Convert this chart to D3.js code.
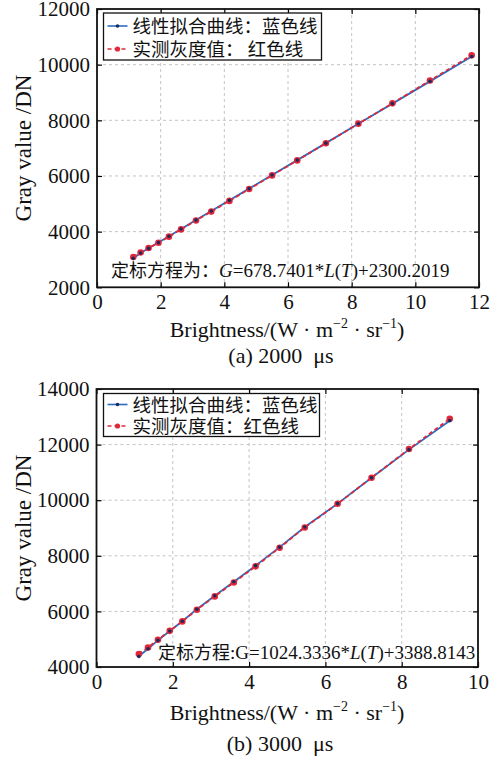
<!DOCTYPE html>
<html><head><meta charset="utf-8">
<script src="https://cdn.jsdelivr.net/npm/d3@7"></script>
<style>body{margin:0;background:#fff}svg{display:block}</style>
</head><body>
<svg id="c" width="504" height="763"></svg>
<script>
// ---- Data (panel a: 2000 µs) ----
const brightnessA = [1.14,1.37,1.62,1.93,2.26,2.64,3.11,3.59,4.16,4.78,5.50,6.29,7.19,8.21,9.28,10.46,11.77];
const fitA =        [3040,3230,3400,3610,3835,4095,4415,4740,5125,5545,6035,6570,7180,7875,8600,9400,10290];
const measuredA =   [3090,3250,3410,3600,3820,4080,4400,4720,5105,5530,6020,6560,7175,7880,8610,9430,10340];
const xTicksA = [0,2,4,6,8,10,12];
const yTicksA = [2000,4000,6000,8000,10000,12000];

// ---- Data (panel b: 3000 µs) ----
const brightnessB = [1.11,1.35,1.61,1.92,2.25,2.63,3.10,3.60,4.17,4.80,5.46,6.32,7.21,8.19,9.26];
const fitB =        [4380,4658,4958,5295,5646,6080,6561,7067,7646,8311,9034,9877,10807,11819,12861];
const measuredB =   [4470,4700,4980,5300,5640,6060,6540,7040,7620,8290,9020,9870,10810,11840,12930];
const xTicksB = [0,2,4,6,8,10];
const yTicksB = [4000,6000,8000,10000,12000,14000];

const legendFit = "线性拟合曲线：蓝色线";
const legendMeasA = "实测灰度值： 红色线";
const legendMeasB = "实测灰度值：红色线";

const svg = d3.select("#c");
const serif = "'Liberation Serif','DejaVu Serif',serif";
const cjk = "'Noto Sans CJK SC','Noto Sans CJK JP',sans-serif";
const BLUE = "#2a6cc0", NAVY = "#1b2a5c", RED = "#e0283a";

function panel(o){
  const g = svg.append("g");
  const x = d3.scaleLinear().domain(o.xdom).range([o.l, o.r]);
  const y = d3.scaleLinear().domain(o.ydom).range([o.b, o.t]);
  // grid
  g.append("g").selectAll("line").data(o.xt.slice(1,-1)).join("line")
    .attr("x1",d=>x(d)).attr("x2",d=>x(d)).attr("y1",o.t).attr("y2",o.b)
    .attr("stroke","#c4c4c4").attr("stroke-dasharray","3,3").attr("stroke-width",1);
  g.append("g").selectAll("line").data(o.yt.slice(1,-1)).join("line")
    .attr("y1",d=>y(d)).attr("y2",d=>y(d)).attr("x1",o.l).attr("x2",o.r)
    .attr("stroke","#c4c4c4").attr("stroke-dasharray","3,3").attr("stroke-width",1);
  // axes (inward ticks on all sides)
  const ax = (gen, tr) => g.append("g").attr("transform",tr).call(gen);
  const bottom = ax(d3.axisBottom(x).tickValues(o.xt).tickSize(-5).tickPadding(7).tickFormat(d3.format("d")), `translate(0,${o.b})`);
  const left = ax(d3.axisLeft(y).tickValues(o.yt).tickSize(-5).tickPadding(6).tickFormat(d3.format("d")), `translate(${o.l},0)`);
  const top = ax(d3.axisTop(x).tickValues(o.xt).tickSize(-5).tickFormat(""), `translate(0,${o.t})`);
  const right = ax(d3.axisRight(y).tickValues(o.yt).tickSize(-5).tickFormat(""), `translate(${o.r},0)`);
  [bottom,left,top,right].forEach(a=>{
    a.select(".domain").remove();
    a.selectAll("line").attr("stroke","#000").attr("stroke-width",1.2);
    a.selectAll("text").attr("font-family",serif).attr("font-size",21).attr("fill","#111");
  });
  left.selectAll("text").attr("dx","-1");
  g.append("rect").attr("x",o.l).attr("y",o.t).attr("width",o.r-o.l).attr("height",o.b-o.t)
    .attr("fill","none").attr("stroke","#111").attr("stroke-width",1.8);

  // lines
  const fitPts = o.bx.map((v,i)=>[v,o.fit[i]]);
  const measPts = o.bx.map((v,i)=>[v,o.meas[i]]);
  const line = d3.line().x(d=>x(d[0])).y(d=>y(d[1]));
  g.append("path").attr("d",line(fitPts)).attr("fill","none").attr("stroke",BLUE).attr("stroke-width",1.8);
  g.append("path").attr("d",line(measPts)).attr("fill","none").attr("stroke",RED).attr("stroke-width",1.8).attr("stroke-dasharray","4,3");
  g.append("g").selectAll("circle").data(measPts).join("circle")
    .attr("cx",d=>x(d[0])).attr("cy",d=>y(d[1])).attr("r",3.3).attr("fill",RED);
  g.append("g").selectAll("circle").data(fitPts).join("circle")
    .attr("cx",d=>x(d[0])).attr("cy",d=>y(d[1])).attr("r",1.8).attr("fill",NAVY);

  // legend
  const L = o.leg;
  g.append("rect").attr("x",L.x).attr("y",L.y).attr("width",L.w).attr("height",L.h)
    .attr("fill","#fff").attr("stroke","#111").attr("stroke-width",1.3);
  const rows = [{t:legendFit,c:BLUE,dash:null,mc:NAVY,mr:1.8},{t:o.legMeas,c:RED,dash:"4,3",mc:RED,mr:2.6}];
  const lt = g.append("text").attr("font-family",cjk).attr("font-size",18.5).attr("fill","#111");
  rows.forEach((r,i)=>{
    const yy = L.y + L.r0 + i*L.dy;
    g.append("line").attr("x1",L.x+4).attr("x2",L.x+24).attr("y1",yy).attr("y2",yy)
      .attr("stroke",r.c).attr("stroke-width",1.6).attr("stroke-dasharray",r.dash);
    g.append("circle").attr("cx",L.x+14).attr("cy",yy).attr("r",r.mr).attr("fill",r.mc);
    lt.append("tspan").attr("x",L.x+29).attr("y",yy+7).text(r.t);
  });

  // equation
  const eq = g.append("text").attr("x",o.eq.x).attr("y",o.eq.y).attr("font-size",19).attr("fill","#111");
  o.eq.parts.forEach(p=>{
    eq.append("tspan").attr("font-family",p.cjk?cjk:serif).attr("font-style",p.it?"italic":"normal")
      .attr("font-size",p.cjk?18:19).text(p.t);
  });

  // axis titles
  g.append("text").attr("transform",`translate(${o.ylab[0]},${o.ylab[1]}) rotate(-90)`)
    .attr("text-anchor","middle").attr("font-family",serif).attr("font-size",23).attr("fill","#111")
    .text("Gray value /DN");
  const xt = g.append("text").attr("x",o.xlab[0]).attr("y",o.xlab[1]).attr("text-anchor","middle")
    .attr("font-family",serif).attr("font-size",22).attr("fill","#111");
  xt.append("tspan").text("Brightness/(W · m");
  xt.append("tspan").attr("dy",-9).attr("font-size",14).text("−2");
  xt.append("tspan").attr("dy",9).text(" · sr");
  xt.append("tspan").attr("dy",-9).attr("font-size",14).text("−1");
  xt.append("tspan").attr("dy",9).text(")");
  g.append("text").attr("x",o.cap[0]).attr("y",o.cap[1]).attr("text-anchor","middle")
    .attr("font-family",serif).attr("font-size",22).attr("fill","#111").attr("xml:space","preserve").text(o.cap[2]);
}

panel({
  l:97, r:479, t:9, b:287.3, xdom:[0,12], ydom:[2000,12000], xt:xTicksA, yt:yTicksA,
  bx:brightnessA, fit:fitA, meas:measuredA, legMeas:legendMeasA,
  leg:{x:103.5,y:13,w:218,h:47,r0:13,dy:23},
  eq:{x:111,y:277,parts:[{t:"定标方程为：",cjk:true},{t:"G",it:true},{t:"=678.7401*"},{t:"L",it:true},{t:"("},{t:"T",it:true},{t:")+2300.2019"}]},
  ylab:[31,148], xlab:[287,337], cap:[281,363,"(a) 2000  μs"]
});
panel({
  l:96.5, r:478, t:389, b:667, xdom:[0,10], ydom:[4000,14000], xt:xTicksB, yt:yTicksB,
  bx:brightnessB, fit:fitB, meas:measuredB, legMeas:legendMeasB,
  leg:{x:103.5,y:393.5,w:216,h:43,r0:11,dy:21.5},
  eq:{x:158,y:659,parts:[{t:"定标方程",cjk:true},{t:":G=1024.3336*"},{t:"L",it:true},{t:"("},{t:"T",it:true},{t:")+3388.8143"}]},
  ylab:[31,528], xlab:[287,720], cap:[280,751,"(b) 3000  μs"]
});
</script>
</body></html>
